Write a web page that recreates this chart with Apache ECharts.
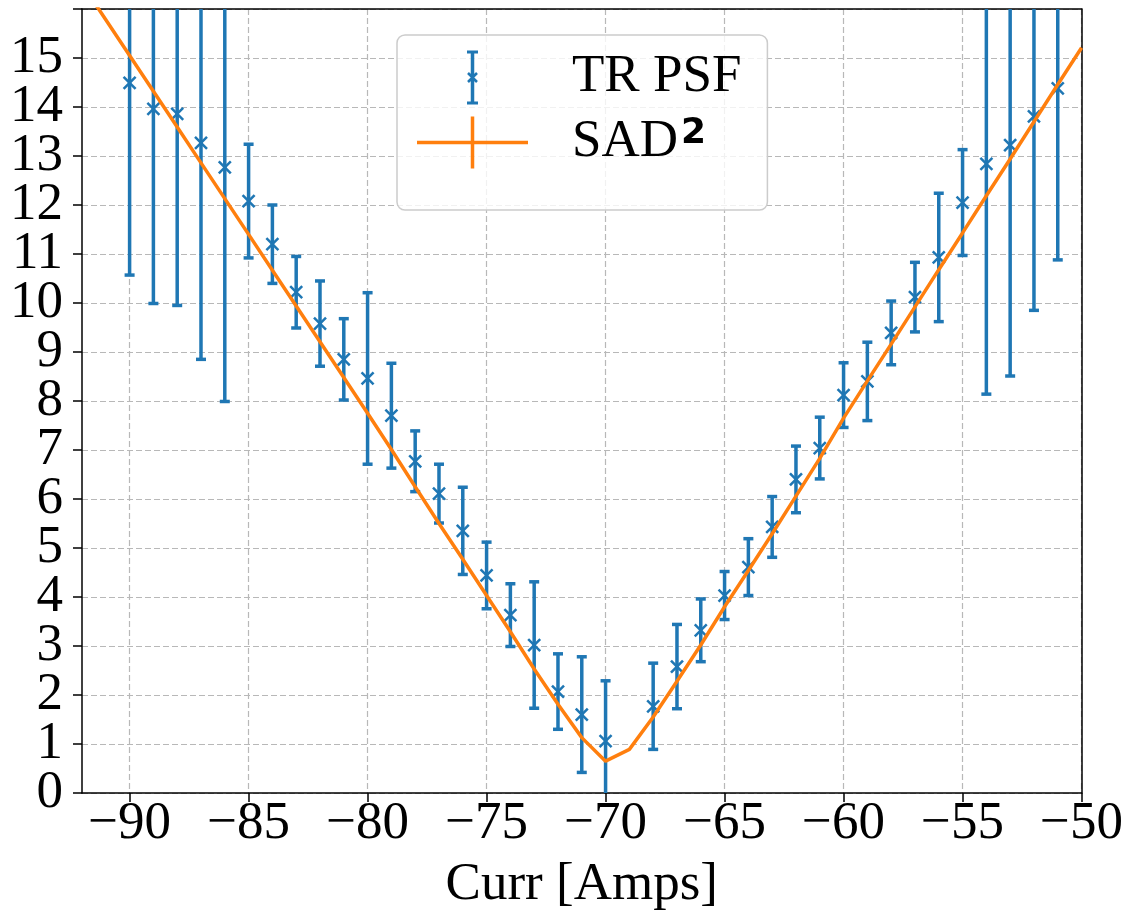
<!DOCTYPE html>
<html>
<head>
<meta charset="utf-8">
<script src="https://cdn.jsdelivr.net/npm/echarts@6/dist/echarts.min.js"></script>
<style>html,body{margin:0;padding:0;background:#fff}#c{width:1126px;height:917px}</style>
</head>
<body>
<div id="c"></div>
<script>
// ---- data ----
const psfCurr = [-90,-89,-88,-87,-86,-85,-84,-83,-82,-81,-80,-79,-78,-77,-76,-75,-74,-73,-72,-71,-70,
  -68,-67,-66,-65,-64,-63,-62,-61,-60,-59,-58,-57,-56,-55,-54,-53,-52,-51];
const psfValue = [14.49,13.96,13.86,13.27,12.77,12.08,11.20,10.22,9.58,8.85,8.46,7.70,6.77,6.11,5.35,4.44,3.63,3.02,2.07,1.60,1.06,
  1.77,2.58,3.32,4.03,4.61,5.43,6.40,7.04,8.12,8.40,9.39,10.12,10.93,12.05,12.84,13.22,13.81,14.38];
const psfError = [3.92,3.97,3.91,4.42,4.78,1.16,0.80,0.73,0.87,0.83,1.75,1.07,0.62,0.60,0.89,0.68,0.64,1.29,0.77,1.18,1.23,
  0.88,0.86,0.64,0.49,0.58,0.62,0.68,0.63,0.66,0.80,0.65,0.71,1.31,1.08,4.70,4.71,3.96,3.50];
const sadCurr = [-92,-91,-90,-89,-88,-87,-86,-85,-84,-83,-82,-81,-80,-79,-78,-77,-76,-75,-74,-73,-72,-71,-70,
  -69,-68,-67,-66,-65,-64,-63,-62,-61,-60,-59,-58,-57,-56,-55,-54,-53,-52,-51,-50];
const sadValue = [16.51,15.78,15.05,14.32,13.59,12.86,12.13,11.40,10.67,9.94,9.21,8.48,7.75,7.01,6.25,5.50,4.77,4.03,3.29,2.53,1.81,1.13,0.65,
  0.89,1.55,2.28,3.02,3.80,4.54,5.29,6.06,6.83,7.65,8.41,9.16,9.92,10.68,11.43,12.19,12.94,13.70,14.46,15.21];
const xTicks = [-90,-85,-80,-75,-70,-65,-60,-55,-50];
const yTicks = [0,1,2,3,4,5,6,7,8,9,10,11,12,13,14,15];
const seriesNames = ['TR PSF', 'SAD2'];

const BLUE = '#1f77b4', ORANGE = '#ff7f0e';
const FONT = '"Liberation Serif", "Times New Roman", Times, serif';

const psfData = psfCurr.map((x, i) => [x, psfValue[i], psfError[i]]);
const sadData = sadCurr.map((x, i) => [x, sadValue[i]]);
// split the y labels over two overlaid axes so ECharts' min/max-label overlap rule hides none of them
const yLabelsB = [yTicks[1], yTicks[yTicks.length - 2]];
const yLabelsA = yTicks.filter(v => yLabelsB.indexOf(v) < 0);

const dots = 'M0 0h0.01v0.01h-0.01Z M149.99 54.99h0.01v0.01h-0.01Z ';
const iconPSF = 'path://' + dots +
  'M53.75 0.5h3.5v54h-3.5Z M50 0.5h11v3h-11Z M50 51.5h11v3h-11Z ' +
  'M50.1 23.9L51.9 22.1L60.9 31.1L59.1 32.9Z M50.1 31.1L59.1 22.1L60.9 23.9L51.9 32.9Z';
const iconSAD = 'path://' + dots + 'M0 25.75h111v3.5h-111Z M53.75 1.5h3.5v52h-3.5Z';

const frameAxis = {show: true, axisLine: {show: true, onZero: false, lineStyle: {color: '#000', width: 1.5}},
  axisTick: {show: false}, axisLabel: {show: false}, splitLine: {show: false}};
const yLabelStyle = {fontFamily: FONT, fontSize: 53, color: '#000', margin: 19,
  showMinLabel: true, showMaxLabel: true, hideOverlap: false, formatter: v => String(v)};

const chart = echarts.init(document.getElementById('c'), null, {renderer: 'canvas'});
chart.setOption({
  animation: false,
  backgroundColor: '#fff',
  grid: {left: 82, right: 44, top: 9, bottom: 120, show: false},
  xAxis: [{
    type: 'value', min: -92, max: -50,
    name: 'Curr [Amps]', nameLocation: 'middle', nameGap: 66,
    nameTextStyle: {fontFamily: FONT, fontSize: 53, color: '#000'},
    axisLine: {show: true, onZero: false, lineStyle: {color: '#000', width: 1.5}},
    axisTick: {show: true, length: 9, lineStyle: {color: '#000', width: 1.5}, customValues: xTicks},
    axisLabel: {fontFamily: FONT, fontSize: 53, color: '#000', margin: 5, customValues: xTicks, hideOverlap: false,
      formatter: v => (v < 0 ? '\u2212' : '') + Math.abs(v)},
    splitLine: {show: true, lineStyle: {color: '#b8b8b8', width: 1.2, type: [6, 3]}}
  }, Object.assign({type: 'value', position: 'top', min: -92, max: -50}, frameAxis)],
  yAxis: [{
    type: 'value', min: 0, max: 16, interval: 1,
    axisLine: {show: true, lineStyle: {color: '#000', width: 1.5}},
    axisTick: {show: true, length: 9, lineStyle: {color: '#000', width: 1.5}},
    axisLabel: Object.assign({customValues: yLabelsA}, yLabelStyle),
    splitLine: {show: true, lineStyle: {color: '#b8b8b8', width: 1.2, type: [6, 3]}}
  }, Object.assign({type: 'value', position: 'right', min: 0, max: 16, interval: 1}, frameAxis),
  {
    type: 'value', position: 'left', offset: 0, min: 0, max: 16, interval: 1,
    axisLine: {show: false}, axisTick: {show: false}, splitLine: {show: false},
    axisLabel: Object.assign({customValues: yLabelsB}, yLabelStyle)
  }],
  legend: {
    orient: 'vertical', left: 397, top: 35,
    itemWidth: 150, itemHeight: 55, itemGap: 10,
    padding: [15, 26, 12, 20],
    borderColor: '#cccccc', borderWidth: 1.5, borderRadius: 8,
    backgroundColor: 'rgba(255,255,255,0.8)',
    selectedMode: false,
    data: [
      {name: seriesNames[0], icon: iconPSF, itemStyle: {color: BLUE, borderWidth: 0}},
      {name: seriesNames[1], icon: iconSAD, itemStyle: {color: ORANGE, borderWidth: 0}}
    ],
    formatter: n => n === 'SAD2' ? '{n|SAD}{s|2}' : '{n|' + n + '}',
    textStyle: {
      fontFamily: FONT, fontSize: 53, color: '#000', lineHeight: 53,
      rich: {
        n: {fontFamily: FONT, fontSize: 53, lineHeight: 53, color: '#000'},
        s: {fontFamily: '"DejaVu Sans", sans-serif', fontWeight: 'bold', fontSize: 36, lineHeight: 36, color: '#000',
            verticalAlign: 'top', padding: [0, 0, 46, 3]}
      }
    }
  },
  series: [
    {
      name: seriesNames[0], type: 'custom', clip: true, z: 2,
      itemStyle: {color: BLUE},
      encode: {x: 0, y: 1},
      data: psfData,
      renderItem: function (params, api) {
        const x = api.value(0), y = api.value(1), e = api.value(2);
        const c = api.coord([x, y]);
        const t = api.coord([x, y + e]);
        const b = api.coord([x, y - e]);
        const cw = 5, m = 6;
        const st = {stroke: BLUE, lineWidth: 3.5, fill: null};
        const sm = {stroke: BLUE, lineWidth: 2.5, fill: null};
        return {type: 'group', children: [
          {type: 'line', shape: {x1: c[0], y1: t[1], x2: c[0], y2: b[1]}, style: st},
          {type: 'line', shape: {x1: c[0] - cw, y1: t[1], x2: c[0] + cw, y2: t[1]}, style: st},
          {type: 'line', shape: {x1: c[0] - cw, y1: b[1], x2: c[0] + cw, y2: b[1]}, style: st},
          {type: 'line', shape: {x1: c[0] - m, y1: c[1] - m, x2: c[0] + m, y2: c[1] + m}, style: sm},
          {type: 'line', shape: {x1: c[0] - m, y1: c[1] + m, x2: c[0] + m, y2: c[1] - m}, style: sm}
        ]};
      }
    },
    {
      name: seriesNames[1], type: 'line', z: 3,
      data: sadData, showSymbol: false, symbol: 'none',
      itemStyle: {color: ORANGE},
      lineStyle: {color: ORANGE, width: 3.5},
      emphasis: {disabled: true}
    }
  ]
});
</script>
</body>
</html>
